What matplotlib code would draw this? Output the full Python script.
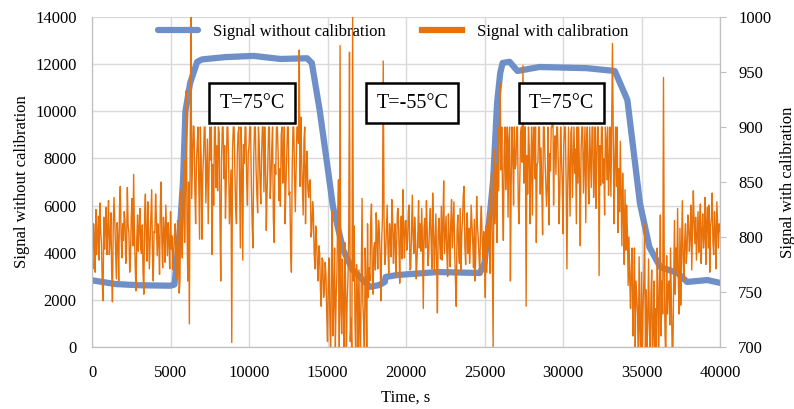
import numpy as np
import matplotlib
matplotlib.use("Agg")
import matplotlib.pyplot as plt

plt.rcParams['font.family'] = ['Liberation Serif', 'DejaVu Serif']

# Signal without calibration (left axis)
blue_t = [0, 1500, 3000, 5000, 5250, 5450, 5600, 5800, 5950, 6250, 6700, 7000,
          8500, 10300, 12000, 13700, 14000, 14500, 15000, 15350, 15700, 16000,
          16600, 17700, 18300, 18650, 18700, 19400, 22000, 24700, 25000, 25350,
          25550, 25800, 26000, 26150, 26600, 27100, 28500, 31500, 33300, 34100,
          34900, 35500, 36200, 37300, 37900, 39200, 40000]
blue_v = [2830, 2670, 2620, 2600, 2650, 4000, 5000, 7100, 10000, 11200, 12100, 12200,
          12300, 12350, 12220, 12250, 12050, 10050, 7650, 5940, 4960, 4110,
          3270, 2550, 2630, 2760, 2970, 3050, 3180, 3140, 3560, 5680,
          7080, 10350, 11620, 12050, 12100, 11710, 11880, 11830, 11710, 10480,
          6100, 4240, 3390, 3140, 2760, 2840, 2720]

# Signal with calibration (right axis), one value per 50 s
orange_step = 50
orange_v = [
    790, 771, 812, 798, 768, 825, 784, 801, 819, 779, 831, 806, 795, 760, 742, 818, 789, 806, 827, 784,
    806, 833, 784, 797, 822, 770, 741, 809, 836, 815, 788, 762, 813, 799, 760, 827, 846, 803, 781, 812,
    797, 823, 815, 776, 790, 845, 811, 803, 768, 781, 819, 835, 792, 857, 806, 774, 751, 798, 820, 787,
    808, 826, 790, 785, 811, 767, 748, 821, 839, 799, 778, 832, 810, 771, 795, 816, 843, 786, 760, 805,
    804, 839, 817, 783, 812, 796, 766, 828, 850, 794, 772, 818, 806, 777, 829, 806, 783, 813, 795, 771,
    823, 789, 801, 770, 787, 801, 812, 762, 778, 815, 792, 749, 760, 842, 805, 781, 833, 870, 795, 846,
    933, 812, 760, 850, 721, 880, 1000, 835, 868, 901, 900, 842, 812, 867, 885, 900, 846, 798, 900, 874,
    798, 856, 873, 900, 900, 831, 862, 889, 812, 857, 900, 870, 900, 784, 866, 829, 900, 900, 845, 883,
    842, 900, 895, 818, 760, 870, 900, 900, 853, 883, 817, 849, 900, 900, 871, 812, 836, 861, 704, 880,
    900, 900, 858, 826, 812, 873, 894, 900, 845, 790, 900, 860, 779, 884, 867, 900, 900, 851, 829, 876,
    883, 900, 900, 846, 812, 790, 872, 900, 900, 862, 838, 822, 900, 885, 851, 830, 874, 900, 900, 841,
    900, 867, 806, 840, 868, 900, 900, 835, 853, 881, 900, 817, 795, 866, 857, 900, 900, 879, 833, 862,
    828, 893, 900, 849, 877, 900, 812, 846, 872, 900, 900, 838, 841, 790, 768, 861, 900, 900, 856, 823,
    863, 900, 900, 885, 970, 846, 909, 871, 845, 820, 888, 900, 812, 862, 878, 843, 836, 851, 852, 800,
    806, 832, 822, 785, 771, 810, 798, 775, 760, 792, 785, 752, 737, 781, 779, 745, 752, 777, 766, 730,
    705, 762, 781, 725, 690, 770, 824, 710, 745, 790, 700, 745, 768, 820, 852, 700, 974, 735, 712, 780,
    740, 690, 795, 760, 690, 742, 760, 800, 968, 705, 726, 690, 1000, 760, 810, 722, 690, 775, 748, 700,
    770, 715, 690, 760, 835, 740, 722, 690, 790, 755, 700, 812, 745, 772, 760, 812, 830, 765, 748, 790,
    795, 770, 822, 801, 771, 815, 806, 782, 742, 796, 818, 960, 818, 775, 784, 806, 829, 791, 767, 812,
    803, 782, 834, 816, 776, 801, 812, 764, 790, 822, 826, 795, 758, 808, 819, 780, 843, 805, 781, 814,
    815, 788, 797, 823, 829, 770, 771, 806, 838, 800, 785, 818, 803, 762, 779, 801, 833, 790, 812, 787,
    826, 795, 735, 809, 817, 790, 833, 806, 774, 786, 812, 826, 796, 771, 840, 809, 768, 795, 821, 779,
    731, 804, 817, 793, 780, 828, 779, 810, 851, 785, 802, 819, 786, 764, 821, 800, 773, 812, 834, 790,
    810, 832, 787, 760, 737, 805, 820, 789, 776, 826, 768, 803, 815, 839, 846, 791, 775, 808, 822, 785,
    808, 776, 795, 829, 813, 795, 772, 816, 760, 790, 837, 810, 799, 782, 765, 813, 828, 797, 781, 805,
    790, 745, 810, 768, 822, 790, 812, 767, 835, 858, 780, 700, 880, 812, 835, 865, 795, 900, 842, 900,
    940, 861, 900, 836, 797, 876, 900, 843, 868, 900, 818, 889, 900, 760, 850, 900, 877, 829, 900, 862,
    866, 900, 900, 831, 812, 853, 893, 900, 868, 956, 849, 900, 900, 737, 874, 839, 900, 881, 812, 860,
    900, 820, 887, 900, 853, 900, 795, 866, 868, 900, 900, 839, 881, 845, 802, 900, 900, 872, 850, 828,
    845, 900, 811, 876, 860, 900, 900, 930, 829, 884, 892, 857, 900, 900, 866, 812, 843, 900, 873, 850,
    803, 884, 900, 900, 848, 771, 845, 900, 862, 819, 895, 900, 836, 867, 900, 858, 880, 812, 900, 849,
    900, 855, 792, 878, 900, 900, 840, 869, 900, 813, 887, 900, 852, 830, 900, 871, 845, 900, 900, 836,
    858, 900, 826, 874, 900, 900, 765, 883, 847, 900, 900, 849, 871, 820, 900, 889, 852, 900, 838, 866,
    900, 837, 900, 976, 890, 812, 868, 900, 846, 900, 804, 862, 823, 887, 840, 792, 858, 820, 775, 843,
    788, 829, 805, 756, 800, 762, 735, 772, 790, 710, 745, 790, 700, 760, 745, 730, 700, 782, 715, 690,
    768, 690, 735, 760, 812, 690, 752, 700, 725, 780, 722, 690, 745, 770, 690, 712, 760, 690, 735, 700,
    790, 745, 690, 760, 820, 710, 760, 730, 945, 770, 710, 690, 783, 730, 755, 760, 720, 790, 745, 700,
    695, 760, 815, 748, 790, 770, 826, 757, 730, 808, 738, 790, 833, 781, 760, 795, 812, 776, 787, 820,
    812, 787, 800, 829, 770, 806, 842, 815, 794, 818, 779, 800, 823, 786, 812, 830, 776, 804, 821, 790,
    801, 836, 775, 812, 827, 790, 829, 768, 810, 817, 840, 795, 784, 823, 806, 771, 832, 810, 790, 812,
    805,
]
orange_t = np.arange(len(orange_v)) * orange_step

boxes = [(10200, 10350, "T=75°C"), (20400, 10350, "T=-55°C"), (29900, 10350, "T=75°C")]

blue = '#6E8FC8'
orange = '#E8710A'
grid_c = '#D9D9D9'
spine_c = '#BFBFBF'

fig = plt.figure(figsize=(7.94, 4.09), dpi=100)
ax = fig.add_axes([0.1159, 0.1516, 0.7909, 0.8068])
ax2 = ax.twinx()

l1, = ax.plot(blue_t, blue_v, color=blue, lw=4.5, solid_capstyle='round',
              label='Signal without calibration')
l2, = ax2.plot(orange_t, orange_v, color=orange, lw=1.0,
               label='Signal with calibration')

ax.set_xlim(0, 40000)
ax.set_ylim(0, 14000)
ax2.set_ylim(700, 1000)
ax.set_xticks(range(0, 40001, 5000))
ax.set_yticks(range(0, 14001, 2000))
ax2.set_yticks(range(700, 1001, 50))
ax.grid(True, color=grid_c, lw=1)
ax.set_axisbelow(True)

for a in (ax, ax2):
    for s in a.spines.values():
        s.set_color(spine_c)
    a.spines['top'].set_visible(False)
ax.tick_params(axis='y', length=0, labelsize=12, pad=11)
ax.tick_params(axis='x', length=0, labelsize=12, pad=13)
ax2.tick_params(axis='y', length=4, color=spine_c, labelsize=12, pad=9)

ax.set_xlabel('Time, s', fontsize=12, labelpad=6)
ax.set_ylabel('Signal without calibration', fontsize=12, labelpad=4)
ax2.set_ylabel('Signal with calibration', fontsize=12, labelpad=6)

for x, y, s in boxes:
    ax2.text(x, 700 + y / 14000 * 300, s, ha='center', va='center', fontsize=14.5,
             bbox=dict(boxstyle='square,pad=0.5', fc='white', ec='black', lw=1.8),
             zorder=5)

leg = ax2.legend([l1, l2], [l1.get_label(), l2.get_label()], loc='center',
                 bbox_to_anchor=(0.48, 0.955), ncol=2, frameon=False, fontsize=12,
                 handlelength=2.4, columnspacing=2.2, handletextpad=0.9)
for h in leg.get_lines():
    h.set_linewidth(4.5)

fig.savefig('out.png', dpi=100)
